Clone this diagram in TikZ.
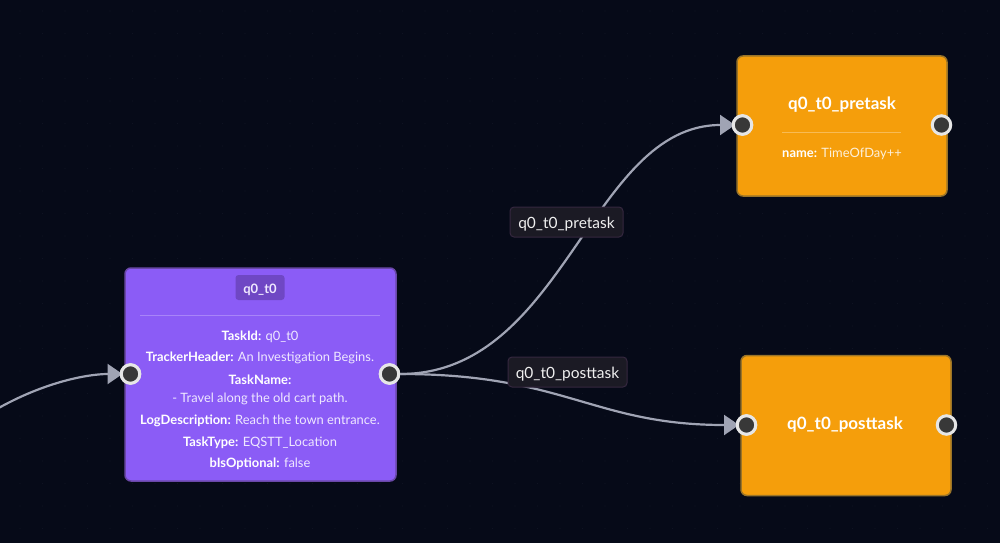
\documentclass[tikz,border=0pt]{standalone}
\usepackage{fontspec}
\setmainfont{Lato}
\usetikzlibrary{arrows.meta}
\definecolor{bgc}{HTML}{060A18}
\definecolor{purp}{HTML}{8B5CF6}
\definecolor{purpb}{HTML}{6A48A8}
\definecolor{purpd}{HTML}{6F47C4}
\definecolor{orng}{HTML}{F59E0B}
\definecolor{orngb}{HTML}{9A7428}
\definecolor{edgec}{HTML}{A0A4B4}
\definecolor{hfill}{HTML}{383838}
\definecolor{hring}{HTML}{E6E6E6}
\definecolor{lblf}{HTML}{1B1A24}
\definecolor{lblb}{HTML}{35273F}
\definecolor{lilac}{HTML}{EFE8FF}
\definecolor{dotc}{HTML}{0F1322}
\tikzset{
  x=1pt,y=-1pt,
  card/.style={draw,line width=1.5pt,rounded corners=6pt,minimum width=#1,inner sep=0pt},
  hnd/.style={circle,fill=hfill,draw=hring,line width=3pt,minimum size=18.5pt,inner sep=0pt},
  edg/.style={draw=edgec,line width=2.2pt,-{Triangle[length=15pt,width=20pt,fill=edgec]}},
  elabel/.style={draw=lblb,fill=lblf,text=white!94!black,line width=1pt,rounded corners=4pt,font=\fontsize{15.5}{18}\selectfont,inner sep=0pt,minimum height=30pt,text height=13pt,text depth=0pt},
  txt/.style={text=white,font=\fontsize{12.9}{15}\selectfont,inner sep=0pt,anchor=center},
}
\begin{document}
\begin{tikzpicture}
\useasboundingbox (0,0) rectangle (1000,543);
\fill[bgc] (0,0) rectangle (1000,543);
\foreach \i in {0,...,44} \foreach \j in {0,...,24}
  \fill[dotc] (\i*22.5+20,\j*22.5+11) circle (0.7);
% nodes
\node[card,draw=purpb,fill=purp,minimum width=271pt,minimum height=213pt] (task) at (260.5,374.5) {};
\node[card,draw=orngb,fill=orng,minimum width=210pt,minimum height=140pt] (pre) at (842,126) {};
\node[card,draw=orngb,fill=orng,minimum width=210pt,minimum height=140pt] (post) at (846,425.5) {};
% handles
\node[hnd] (ti) at (130.5,374) {};
\node[hnd] (to) at (389.5,374) {};
\node[hnd] (pi) at (742.5,125) {};
\node[hnd] (po) at (941.5,125) {};
\node[hnd] (qi) at (746.5,425) {};
\node[hnd] (qo) at (946.5,425) {};
\coordinate (stub) at (-10,413);
\coordinate (pt) at (735,125);
\coordinate (qt) at (739,425);
\coordinate (tt) at (122.5,374);
% edges
\draw[edg] (to.east) .. controls +(165,0) and +(-145,0) .. (pt);
\draw[edg] (to.east) .. controls +(165,0) and +(-146,0) .. (qt);
\draw[edg] (stub) .. controls +(50,-30) and +(-36,0) .. (tt);
\foreach \h in {to,pi,qi,ti} \node[hnd] at (\h) {};
% edge labels
\node[elabel,minimum width=113pt] (l1) at (566.5,222) {q0\_t0\_pretask};
\node[elabel,minimum width=119pt] (l2) at (567.5,372) {q0\_t0\_posttask};
% purple node text
\node[fill=purpd,rounded corners=3pt,minimum width=49pt,minimum height=25pt,inner sep=0pt,text=lilac,font=\bfseries\fontsize{13}{15}\selectfont,text height=11pt,text depth=0pt] (badge) at (260,287.5) {q0\_t0};
\draw[white,opacity=.25,line width=1pt] (140,315) -- (380,315);
\node[txt] (a1) at (260,337) {\textbf{TaskId:} {\color{lilac}q0\_t0}};
\node[txt] (a2) at (260,358) {\textbf{TrackerHeader:} {\color{lilac}An Investigation Begins.}};
\node[txt] (a3) at (260,380) {\textbf{TaskName:}};
\node[txt] (a4) at (260,399) {\color{lilac}- Travel along the old cart path.};
\node[txt] (a5) at (260,421) {\textbf{LogDescription:} {\color{lilac}Reach the town entrance.}};
\node[txt] (a6) at (260,443) {\textbf{TaskType:} {\color{lilac}EQSTT\_Location}};
\node[txt] (a7) at (260,464) {\textbf{bIsOptional:} {\color{lilac}false}};
% orange text
\node[txt,font=\bfseries\fontsize{17}{20}\selectfont] (b1) at (842,105) {q0\_t0\_pretask};
\draw[white,opacity=.3,line width=1pt] (782,132) -- (901,132);
\node[txt] (b2) at (842,154) {\textbf{name:} {\color{white!85!orng}TimeOfDay++}};
\node[txt,font=\bfseries\fontsize{17}{20}\selectfont] (c1) at (845,425) {q0\_t0\_posttask};
\end{tikzpicture}
\end{document}
